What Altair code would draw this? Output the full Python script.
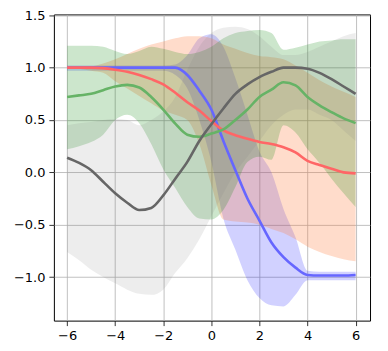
import altair as alt
import pandas as pd

xs = [-6.0, -5.5, -5.0, -4.5, -4.0, -3.5, -3.0, -2.5, -2.0, -1.5, -1.0, -0.5, 0.0,
      0.5, 1.0, 1.5, 2.0, 2.5, 3.0, 3.5, 4.0, 4.5, 5.0, 5.5, 6.0]

black_mean = [0.14, 0.09, 0.02, -0.09, -0.2, -0.29, -0.36, -0.34, -0.22, -0.06, 0.1, 0.3, 0.46,
              0.61, 0.75, 0.84, 0.91, 0.96, 1.0, 1.0, 0.99, 0.95, 0.89, 0.82, 0.75]
black_lo = [-0.76, -0.84, -0.93, -1.0, -1.06, -1.12, -1.16, -1.17, -1.12, -0.96, -0.82, -0.64, -0.42,
            -0.2, 0.0, 0.15, 0.3, 0.45, 0.55, 0.6, 0.6, 0.55, 0.5, 0.4, 0.3]
black_hi = [0.45, 0.47, 0.48, 0.5, 0.51, 0.5, 0.45, 0.5, 0.58, 0.72, 0.98, 1.2, 1.33,
            1.38, 1.39, 1.37, 1.3, 1.2, 1.12, 1.12, 1.15, 1.2, 1.25, 1.3, 1.33]

green_mean = [0.72, 0.735, 0.75, 0.785, 0.82, 0.835, 0.81, 0.72, 0.6, 0.465, 0.36, 0.34, 0.37,
              0.41, 0.5, 0.6, 0.72, 0.79, 0.86, 0.83, 0.72, 0.64, 0.575, 0.515, 0.47]
green_lo = [0.22, 0.25, 0.29, 0.36, 0.5, 0.55, 0.47, 0.27, 0.03, -0.15, -0.33, -0.44, -0.45,
            -0.36, -0.14, 0.1, 0.15, 0.12, 0.45, 0.38, 0.22, 0.09, -0.06, -0.2, -0.33]
green_hi = [1.21, 1.21, 1.21, 1.2, 1.16, 1.13, 1.16, 1.2, 1.18, 1.15, 1.13, 1.15, 1.2,
            1.28, 1.33, 1.35, 1.36, 1.33, 1.17, 1.19, 1.22, 1.25, 1.26, 1.27, 1.27]

red_mean = [1.0, 1.0, 1.0, 0.995, 0.98, 0.96, 0.93, 0.89, 0.84, 0.76, 0.67, 0.59, 0.49,
            0.40, 0.355, 0.32, 0.29, 0.27, 0.24, 0.19, 0.11, 0.07, 0.035, 0.0, -0.01]
red_lo = [1.0, 0.99, 0.97, 0.95, 0.87, 0.8, 0.73, 0.66, 0.59, 0.55, 0.5, 0.27, -0.12,
          -0.45, -0.47, -0.48, -0.5, -0.54, -0.58, -0.64, -0.71, -0.76, -0.8, -0.83, -0.85]
red_hi = [1.0, 1.0, 1.01, 1.04, 1.08, 1.13, 1.18, 1.22, 1.25, 1.28, 1.3, 1.3, 1.28,
          1.22, 1.18, 1.14, 1.11, 1.1, 1.08, 1.02, 0.95, 0.88, 0.82, 0.77, 0.72]

blue_mean = [1.0, 1.0, 1.0, 1.0, 1.0, 1.0, 1.0, 1.0, 1.0, 1.0, 0.93, 0.78, 0.6,
             0.3, 0.02, -0.25, -0.46, -0.67, -0.81, -0.91, -0.98, -0.985, -0.985, -0.985, -0.98]
blue_lo = [0.97, 0.97, 0.97, 0.97, 0.97, 0.97, 0.97, 0.97, 0.97, 0.93, 0.8, 0.5, 0.1,
           -0.44, -0.74, -1.03, -1.2, -1.27, -1.28, -1.17, -1.03, -1.03, -1.03, -1.03, -1.03]
blue_hi = [1.02, 1.02, 1.02, 1.02, 1.02, 1.02, 1.02, 1.02, 1.02, 1.03, 1.12, 1.28, 1.32,
           1.2, 0.9, 0.55, 0.2, 0.0, -0.35, -0.62, -0.94, -0.95, -0.95, -0.95, -0.95]

x_ticks = [-6, -4, -2, 0, 2, 4, 6]
y_ticks = [-1.0, -0.5, 0.0, 0.5, 1.0, 1.5]

# drawing order: blue, red, green, black (last on top)
series = [
    ("blue", blue_mean, blue_lo, blue_hi, "#6666ff", "#0000ff", 0.18),
    ("red", red_mean, red_lo, red_hi, "#ff6666", "#ff7f3f", 0.27),
    ("green", green_mean, green_lo, green_hi, "#66b366", "#008000", 0.2),
    ("black", black_mean, black_lo, black_hi, "#666666", "#808080", 0.14),
]

xscale = alt.Scale(domain=[-6.55, 6.6], nice=False, zero=False)
yscale = alt.Scale(domain=[-1.416, 1.508], nice=False, zero=False)
xaxis = alt.Axis(values=x_ticks, title=None, format="d",
                 labelExpr="replace(datum.label, '-', '\u2212')")
yaxis = alt.Axis(values=y_ticks, title=None, format=".1f",
                 labelExpr="replace(datum.label, '-', '\u2212')")

bands = []
lines = []
for name, m, lo, hi, lc, bc, op in series:
    df = pd.DataFrame({"x": xs, "y": m, "lo": lo, "hi": hi})
    base = alt.Chart(df)
    bands.append(
        base.mark_area(color=bc, opacity=op, interpolate="monotone").encode(
            x=alt.X("x:Q", scale=xscale, axis=xaxis),
            y=alt.Y("lo:Q", scale=yscale, axis=yaxis),
            y2="hi:Q",
        )
    )
    lines.append(
        base.mark_line(color=lc, strokeWidth=2.6, interpolate="monotone").encode(
            x=alt.X("x:Q", scale=xscale, axis=xaxis),
            y=alt.Y("y:Q", scale=yscale, axis=yaxis),
        )
    )

chart = alt.layer(*bands, *lines).properties(
    width=317, height=307,
    autosize=alt.AutoSizeParams(type="none"),
    padding={"left": 46, "top": 6, "right": 10, "bottom": 30},
).configure_view(
    stroke="black", strokeWidth=1
).configure_axis(
    domain=False, grid=True, gridColor="#b0b0b0", gridWidth=0.8,
    tickColor="black", tickSize=5, tickWidth=0.8,
    labelFont="DejaVu Sans", labelFontSize=13, labelColor="black", labelPadding=4,
)

chart.save("out.html", embed_options={"renderer": "svg", "actions": False})
